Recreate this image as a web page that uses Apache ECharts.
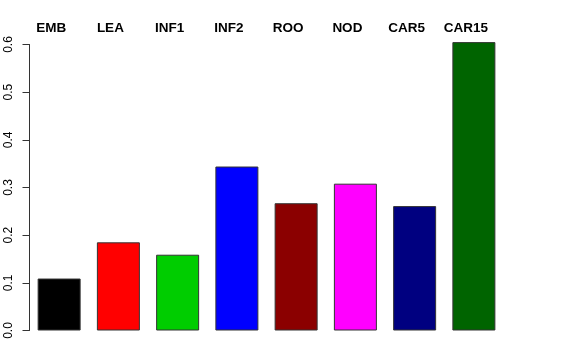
<!DOCTYPE html>
<html>
<head>
<meta charset="utf-8">
<script src="https://cdn.jsdelivr.net/npm/echarts@6/dist/echarts.min.js"></script>
<style>html,body{margin:0;padding:0;background:#fff}#c{width:576px;height:360px}</style>
</head>
<body>
<div id="c"></div>
<script>
const categories = ['EMB','LEA','INF1','INF2','ROO','NOD','CAR5','CAR15'];
const values = [0.109, 0.185, 0.159, 0.344, 0.267, 0.308, 0.261, 0.605];
const barColors = ['#000000','#FF0000','#00CD00','#0000FF','#8B0000','#FF00FF','#000080','#006400'];
const yTicks = [0, 0.1, 0.2, 0.3, 0.4, 0.5, 0.6];

const chart = echarts.init(document.getElementById('c'), null, {renderer:'canvas'});
chart.setOption({
  animation: false,
  backgroundColor: '#fff',
  grid: {left: 29.5, right: 72.5, top: 44.5, bottom: 29.5, containLabel: false},
  xAxis: {
    type: 'category',
    position: 'top',
    data: categories,
    axisLine: {show: false},
    axisTick: {show: false},
    axisLabel: {color: '#000', fontFamily: 'Liberation Sans, Arial, sans-serif', fontWeight: 'bold', fontSize: 13.5, margin: 9, padding: [0, 16, 0, 0]},
    splitLine: {show: false}
  },
  yAxis: {
    type: 'value',
    min: 0, max: 0.6, interval: 0.1,
    axisLine: {show: true, lineStyle: {color: '#333', width: 1}},
    axisTick: {show: true, length: 7, inside: false, lineStyle: {color: '#333'}},
    axisLabel: {
      color: '#000', fontFamily: 'Liberation Sans, Arial, sans-serif', fontSize: 12,
      rotate: 90, margin: 15,
      formatter: v => yTicks.includes(Math.round(v*10)/10) ? v.toFixed(1) : ''
    },
    splitLine: {show: false}
  },
  series: [{
    type: 'bar',
    barWidth: 43,
    clip: false,
    data: values.map((v, i) => ({value: v, itemStyle: {color: barColors[i]}})),
    itemStyle: {borderColor: '#333', borderWidth: 1}
  }]
});
</script>
</body>
</html>
